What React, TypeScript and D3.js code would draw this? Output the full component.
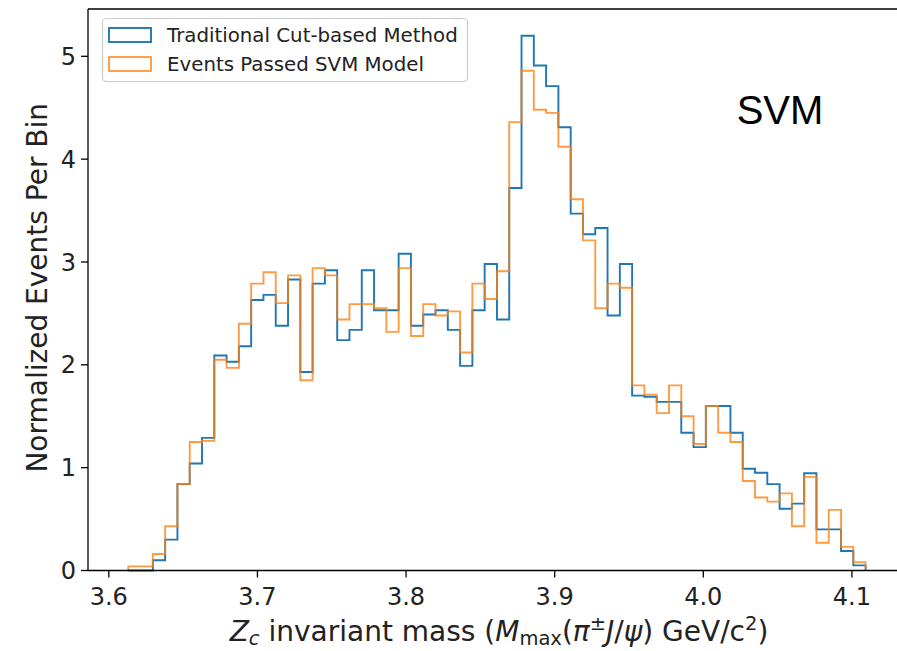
import React from "react";
import * as d3 from "d3";

// Histogram bins (60 equal bins between these edges)
const binStart = 3.6131;
const binEnd = 4.1092;
const binCount = 60;

const traditional = [
  0, 0, 0.1, 0.3, 0.84, 1.04, 1.29, 2.09, 2.03, 2.18,
  2.63, 2.68, 2.38, 2.83, 1.93, 2.79, 2.92, 2.24, 2.34, 2.92,
  2.53, 2.53, 3.08, 2.38, 2.49, 2.53, 2.34, 1.99, 2.53, 2.98,
  2.44, 3.72, 5.2, 4.91, 4.71, 4.31, 3.47, 3.27, 3.33, 2.48,
  2.98, 1.7, 1.69, 1.64, 1.64, 1.34, 1.2, 1.6, 1.6, 1.34,
  0.99, 0.95, 0.84, 0.6, 0.65, 0.945, 0.4, 0.4, 0.19, 0.05,
];

const svmPassed = [
  0.04, 0.04, 0.16, 0.43, 0.84, 1.25, 1.26, 2.05, 1.97, 2.4,
  2.79, 2.9, 2.6, 2.87, 1.85, 2.94, 2.87, 2.44, 2.59, 2.59,
  2.55, 2.32, 2.94, 2.28, 2.59, 2.48, 2.52, 2.12, 2.79, 2.64,
  2.91, 4.36, 4.86, 4.48, 4.45, 4.12, 3.61, 3.21, 2.55, 2.79,
  2.75, 1.8, 1.71, 1.53, 1.8, 1.5, 1.23, 1.6, 1.34, 1.25,
  0.87, 0.71, 0.67, 0.75, 0.43, 0.91, 0.27, 0.59, 0.23, 0.08,
];

const xTicks = [3.6, 3.7, 3.8, 3.9, 4.0, 4.1];
const yTicks = [0, 1, 2, 3, 4, 5];
const seriesNames = ["Traditional Cut-based Method", "Events Passed SVM Model"];

const BLUE = "#1f77b4";
const ORANGE = "#ff7f0e";
const FONT = "'DejaVu Sans', sans-serif";

export default function App() {
  const W = 897;
  const H = 651;
  const left = 88;
  const right = 905;
  const top = 9;
  const bottom = 570.5;

  const x = d3.scaleLinear().domain([3.586, 4.1357]).range([left, right]);
  const y = d3.scaleLinear().domain([0, 5.46]).range([bottom, top]);

  const step = (binEnd - binStart) / binCount;
  const edges = d3.range(binCount + 1).map((i) => binStart + i * step);

  const stepPath = (vals: number[]) => {
    const pts: [number, number][] = [[x(edges[0]), y(0)]];
    vals.forEach((v, i) => {
      pts.push([x(edges[i]), y(v)]);
      pts.push([x(edges[i + 1]), y(v)]);
    });
    pts.push([x(edges[binCount]), y(0)]);
    return d3.line()(pts) as string;
  };

  return (
    <svg
      width={W}
      height={H}
      style={{ position: "absolute", left: 0, top: 0, background: "#fff" }}
      fontFamily={FONT}
    >
      <defs>
        <clipPath id="plotclip">
          <rect x={left} y={top} width={right - left} height={bottom - top + 2} />
        </clipPath>
      </defs>

      <g clipPath="url(#plotclip)" fill="none" strokeLinejoin="miter">
        <path d={stepPath(traditional)} stroke={BLUE} strokeWidth={1.9} />
        <path d={stepPath(svmPassed)} stroke={ORANGE} strokeWidth={1.9} strokeOpacity={0.78} />
      </g>

      {/* spines */}
      <g stroke="#000" strokeWidth={1.3} fill="none">
        <line x1={left} x2={left} y1={top} y2={bottom} />
        <line x1={left} x2={right} y1={bottom} y2={bottom} />
        <line x1={left} x2={right} y1={top} y2={top} />
        <line x1={right} x2={right} y1={top} y2={bottom} />
      </g>

      {/* x ticks */}
      {xTicks.map((t) => (
        <g key={t}>
          <line x1={x(t)} x2={x(t)} y1={bottom} y2={bottom + 7} stroke="#000" strokeWidth={1.3} />
          <text x={x(t)} y={bottom + 34} textAnchor="middle" fontSize={24} fill="#222">
            {t.toFixed(1)}
          </text>
        </g>
      ))}

      {/* y ticks */}
      {yTicks.map((t) => (
        <g key={t}>
          <line x1={left - 7} x2={left} y1={y(t)} y2={y(t)} stroke="#000" strokeWidth={1.3} />
          <text x={left - 12} y={y(t)} dy="0.36em" textAnchor="end" fontSize={24} fill="#222">
            {t}
          </text>
        </g>
      ))}

      {/* axis labels */}
      <text
        transform={`translate(37, ${(top + bottom) / 2 - 2}) rotate(-90)`}
        textAnchor="middle"
        dy="0.36em"
        fontSize={28}
        fill="#222"
      >
        Normalized Events Per Bin
      </text>

      <text x={499} y={641} textAnchor="middle" fontSize={28} fill="#222">
        <tspan fontStyle="italic">Z</tspan>
        <tspan fontSize={19.5} dy={4} fontStyle="italic">c</tspan>
        <tspan dy={-4}> invariant mass (</tspan>
        <tspan fontStyle="italic">M</tspan>
        <tspan fontSize={19.5} dy={4}>max</tspan>
        <tspan dy={-4}>(</tspan>
        <tspan fontStyle="italic">π</tspan>
        <tspan fontSize={19.5} dy={-11}>±</tspan>
        <tspan dy={11} fontStyle="italic">J</tspan>
        <tspan>/</tspan>
        <tspan fontStyle="italic">ψ</tspan>
        <tspan>) GeV/c</tspan>
        <tspan fontSize={19.5} dy={-11}>2</tspan>
        <tspan dy={11}>)</tspan>
      </text>

      {/* legend */}
      <g>
        <rect
          x={102.5}
          y={18.5}
          width={365}
          height={63}
          rx={4}
          fill="#fff"
          fillOpacity={0.8}
          stroke="#cccccc"
          strokeWidth={1.2}
        />
        {seriesNames.map((name, i) => (
          <g key={name} transform={`translate(0, ${i * 29})`}>
            <rect
              x={109}
              y={28}
              width={42}
              height={14}
              fill="none"
              stroke={i === 0 ? BLUE : ORANGE}
              strokeOpacity={i === 0 ? 1 : 0.78}
              strokeWidth={1.9}
            />
            <text x={167} y={35} dy="0.36em" fontSize={19.8} fill="#222">
              {name}
            </text>
          </g>
        ))}
      </g>

      <text x={780} y={110} textAnchor="middle" dy="0.36em" fontSize={40} fontFamily="'Liberation Sans', Arial, sans-serif" fill="#000">
        SVM
      </text>
    </svg>
  );
}
